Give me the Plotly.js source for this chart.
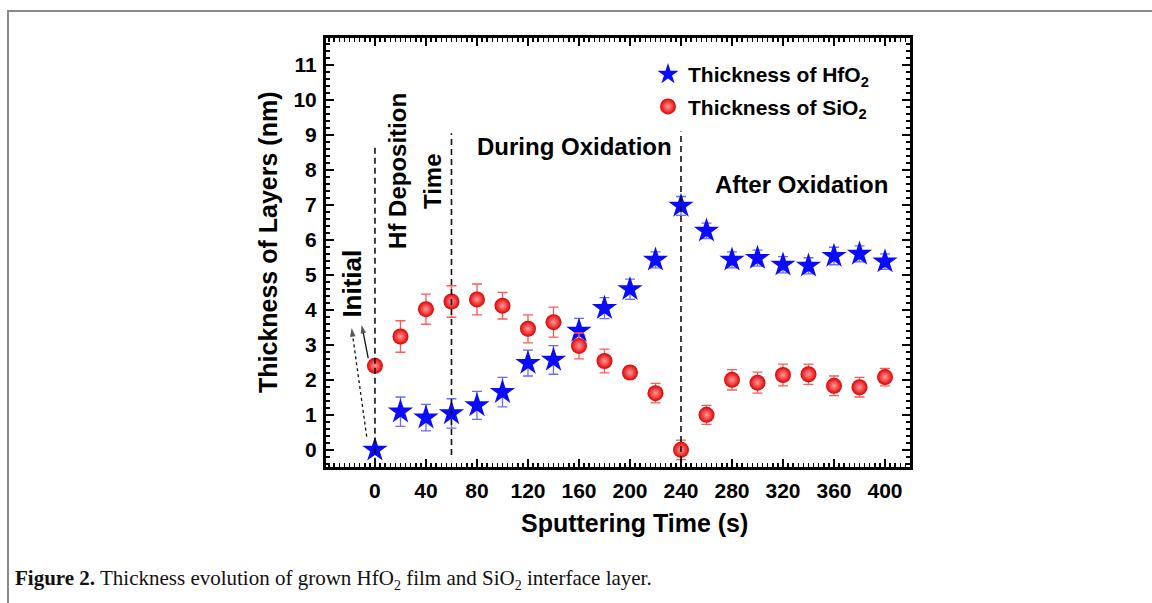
<!DOCTYPE html>
<html>
<head>
<meta charset="utf-8">
<script src="https://cdn.plot.ly/plotly-3.0.1.min.js"></script>
<style>
  html, body { margin: 0; padding: 0; background: #fff; }
  #wrap { position: relative; width: 1152px; height: 603px; overflow: hidden; }
  #frame { position: absolute; left: 7px; top: 10px; right: -4px; bottom: -4px;
           border-top: 2px solid #8a8a8a; border-left: 2px solid #8a8a8a; }
  #chart { position: absolute; left: 0; top: 0; width: 1152px; height: 603px; }
  #caption { position: absolute; left: 15px; top: 566px; font-family: "Liberation Serif", "DejaVu Serif", serif;
             font-size: 21px; color: #111; white-space: nowrap; }
  #caption sub { font-size: 14px; }
</style>
</head>
<body>
<div id="wrap">
  <div id="frame"></div>
  <div id="chart"></div>
  <div id="caption"><b>Figure 2.</b> Thickness evolution of grown HfO<sub>2</sub> film and SiO<sub>2</sub> interface layer.</div>
</div>
<script>
// Sputtering time (s)
const time = [0, 20, 40, 60, 80, 100, 120, 140, 160, 180, 200, 220, 240, 260, 280, 300, 320, 340, 360, 380, 400];

// HfO2 film thickness (nm) and its uncertainty
const hfo2 = [0.0, 1.09, 0.92, 1.04, 1.27, 1.65, 2.48, 2.57, 3.40, 4.05, 4.59, 5.43, 6.97, 6.26, 5.43, 5.48, 5.29, 5.26, 5.54, 5.60, 5.38];
const hfo2Err = [0.0, 0.42, 0.38, 0.42, 0.40, 0.42, 0.37, 0.41, 0.36, 0.30, 0.29, 0.23, 0.27, 0.22, 0.23, 0.23, 0.23, 0.23, 0.25, 0.23, 0.22];

// SiO2 interface layer thickness (nm) and its uncertainty
const sio2 = [2.40, 3.24, 4.02, 4.24, 4.30, 4.12, 3.46, 3.65, 2.97, 2.54, 2.21, 1.62, 0.0, 1.00, 2.00, 1.92, 2.14, 2.16, 1.83, 1.79, 2.08];
const sio2Err = [0.0, 0.45, 0.43, 0.45, 0.44, 0.38, 0.40, 0.43, 0.37, 0.34, 0.0, 0.28, 0.28, 0.27, 0.29, 0.30, 0.31, 0.29, 0.28, 0.28, 0.25];

// Stage boundaries (s) and the vertical extent of their dashed markers (nm)
const stageLines = [0, 60, 240];
const stageTop = [8.75, 9.05, 9.1];
const stageBottom = [-0.4, -0.15, -0.35];

// Pointers from the first data points to the "Initial" label: [tail, head]
const solidArrowX = [-5.3, -10.4];
const solidArrowY = [2.62, 3.57];
const dottedArrowX = [-6.5, -18.3];
const dottedArrowY = [0.38, 3.48];

const bold = {family: "Liberation Sans, Arial, sans-serif", color: "#000", weight: "bold"};
const f = (size) => Object.assign({}, bold, {size: size});

const arrowTrace = (xs, ys, dash) => ({
  x: xs, y: ys, type: "scatter", mode: "lines+markers", showlegend: false, hoverinfo: "skip",
  line: {color: "#111", width: 1.3, dash: dash},
  marker: {symbol: "arrow", size: [0, 9], color: "#111", angleref: "previous", line: {width: 0}}
});

const traces = [
  arrowTrace(dottedArrowX, dottedArrowY, "dot"),
  arrowTrace(solidArrowX, solidArrowY, "solid"),
  {
    x: time, y: hfo2, type: "scatter", mode: "markers",
    name: "Thickness of HfO<sub>2</sub>",
    legendgroup: "a",
    marker: {symbol: "star", size: 19, color: "#0a0aff", line: {width: 0}},
    error_y: {type: "data", array: hfo2Err, visible: true, color: "#6a6aff", thickness: 1.3, width: 5}
  },
  {
    x: time, y: sio2, type: "scatter", mode: "markers",
    name: "Thickness of SiO<sub>2</sub>",
    legendgroup: "b",
    marker: {symbol: "circle", size: 16, color: "#e00000",
             gradient: {type: "radial", color: "#ff9a9a"}, line: {width: 0}},
    error_y: {type: "data", array: sio2Err, visible: true, color: "#ff5a5a", thickness: 1.3, width: 5}
  }
];

const shapes = stageLines.map((x, i) => ({
  type: "line", xref: "x", yref: "y", x0: x, x1: x, y0: stageBottom[i], y1: stageTop[i],
  line: {color: "#111", width: 1.6, dash: "6px,4px"}
}));

const annotations = [
  {text: "Initial", x: -18.3, y: 4.74, xref: "x", yref: "y", showarrow: false, textangle: -90, font: f(26)},
  {text: "Hf Deposition", x: 18, y: 7.97, xref: "x", yref: "y", showarrow: false, textangle: -90, font: f(24)},
  {text: "Time", x: 45.2, y: 7.67, xref: "x", yref: "y", showarrow: false, textangle: -90, font: f(24)},
  {text: "During Oxidation", x: 156.5, y: 8.67, xref: "x", yref: "y", showarrow: false, font: f(24)},
  {text: "After Oxidation", x: 334.6, y: 7.57, xref: "x", yref: "y", showarrow: false, font: f(24)},
  // axis titles
  {text: "Sputtering Time (s)", xref: "paper", yref: "paper", x: (634 - 326) / 584, y: -(523 - 467) / 429,
   yanchor: "middle", showarrow: false, font: f(25)},
  {text: "Thickness of Layers (nm)", xref: "paper", yref: "paper", x: -(326 - 268) / 584, y: 1 - (243 - 38) / 429,
   xanchor: "center", yanchor: "middle", showarrow: false, textangle: -90, font: f(25)}
];

const xRange = [-38.4, 419.6];

const layout = {
  width: 1152, height: 603,
  margin: {l: 326, r: 242, t: 38, b: 136},
  paper_bgcolor: "rgba(0,0,0,0)", plot_bgcolor: "#fff",
  showlegend: true,
  legend: {x: (648 - 326) / 584, y: 1 - (54 - 38) / 429, xanchor: "left", yanchor: "top",
           bgcolor: "rgba(0,0,0,0)", font: f(21), tracegroupgap: 2, traceorder: "grouped"},
  xaxis: {
    range: xRange, tick0: 0, dtick: 40,
    ticks: "inside", ticklen: 8, tickwidth: 2, tickcolor: "#000",
    minor: {ticks: "inside", tick0: 0, dtick: 4, ticklen: 4, tickwidth: 1.5, tickcolor: "#000"},
    showline: true, linewidth: 3, linecolor: "#000", mirror: "allticks",
    showgrid: false, zeroline: false, tickfont: f(21), ticklabelstandoff: 3
  },
  // unlabeled ticks halfway between the labeled ones
  xaxis2: {
    overlaying: "x", matches: "x", side: "bottom", anchor: "y", range: xRange, tick0: 20, dtick: 40,
    ticks: "inside", ticklen: 7, tickwidth: 2, tickcolor: "#000", mirror: "allticks",
    showticklabels: false, showline: false, showgrid: false, zeroline: false
  },
  yaxis: {
    range: [-0.49, 11.77], tick0: 0, dtick: 1,
    ticks: "inside", ticklen: 8, tickwidth: 2, tickcolor: "#000",
    minor: {ticks: "inside", dtick: 0.2, ticklen: 4, tickwidth: 1.5, tickcolor: "#000"},
    showline: true, linewidth: 3, linecolor: "#000", mirror: "allticks",
    showgrid: false, zeroline: false, tickfont: f(21), ticklabelstandoff: 2
  },
  shapes: shapes,
  annotations: annotations
};

Plotly.newPlot("chart", traces, layout, {displayModeBar: false, staticPlot: true});
</script>
</body>
</html>
